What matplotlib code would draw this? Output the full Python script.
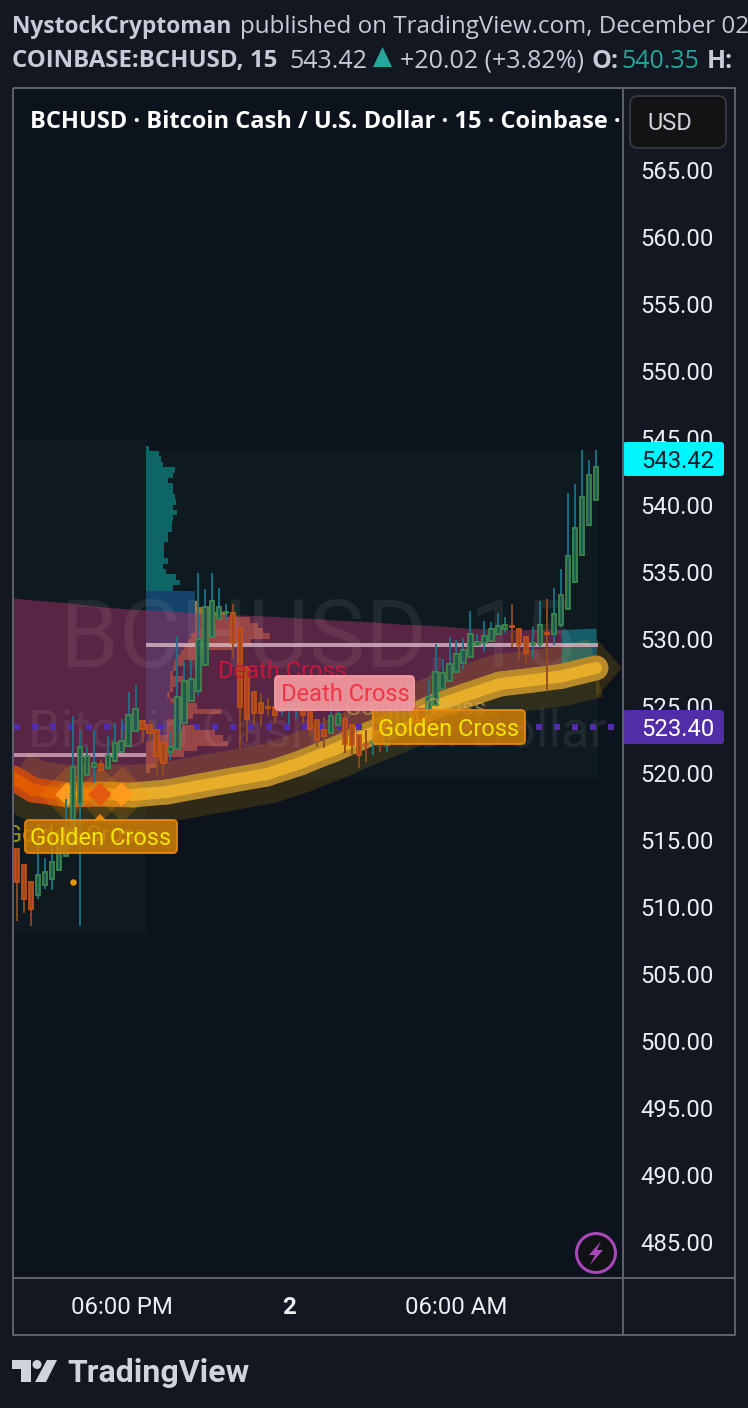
import numpy as np
import matplotlib
matplotlib.use("Agg")
import matplotlib.pyplot as plt
from matplotlib.collections import LineCollection
from matplotlib.patches import FancyBboxPatch, Polygon, Circle, Rectangle

# ---------- data ----------
opens = [514.31,513.11,511.84,510.87,511.62,512.07,512.76,513.81,515.30,517.68,519.82,520.47,520.64,520.37,520.92,521.59,522.01,523.15,523.90,523.55,
         523.23,522.26,521.54,521.76,523.70,525.34,526.14,528.03,530.16,531.46,531.95,531.90,530.79,527.88,526.01,525.19,524.94,524.89,524.60,524.87,
         524.79,524.89,524.57,523.92,523.20,523.00,523.60,523.99,523.60,522.85,522.15,522.20,522.30,522.10,522.70,523.20,523.92,524.99,524.74,524.39,
         525.04,526.23,526.83,527.50,528.17,528.62,529.51,529.71,529.86,530.36,530.71,530.93,530.75,530.16,529.51,529.61,530.41,530.36,531.05,532.20,
         534.24,536.22,538.46,540.32]
closes = [511.89,510.58,509.83,512.36,512.59,513.33,514.75,515.99,520.42,521.96,521.26,520.72,520.22,521.36,522.21,522.36,524.30,524.74,523.25,522.95,
          521.29,520.77,521.91,525.64,526.88,526.98,529.97,532.35,532.80,532.35,532.03,529.67,524.94,524.05,524.45,524.50,524.87,524.35,524.82,524.97,
          525.04,524.29,523.30,522.45,522.75,524.24,524.39,522.15,522.10,521.31,522.08,522.28,522.20,523.15,523.99,524.69,526.01,524.49,524.04,525.68,
          527.50,527.42,528.10,528.84,529.16,530.33,529.74,530.18,530.75,530.98,531.00,530.85,529.51,528.92,529.66,531.05,530.33,531.82,533.29,536.20,
          538.29,540.60,542.24,542.84]
highs = [514.31,513.11,511.84,515.00,513.63,515.12,515.62,518.03,524.25,523.20,521.91,523.20,521.04,522.76,523.70,524.00,526.04,526.53,523.90,523.95,
         523.23,522.26,523.03,530.21,528.27,528.42,534.91,533.69,534.89,533.77,532.60,532.60,530.79,527.88,526.01,525.94,525.59,524.89,526.24,525.69,
         525.64,524.89,524.57,523.92,524.19,525.19,524.74,524.44,523.60,522.85,523.20,522.83,523.07,524.99,524.74,525.68,527.30,525.81,524.74,526.98,
         529.61,528.47,530.11,529.91,530.03,532.05,530.36,531.33,531.28,531.95,531.65,532.59,530.75,530.16,530.90,532.79,532.97,533.76,535.18,540.85,
         541.52,544.08,543.33,544.08]
lows = [508.99,509.58,508.61,510.62,511.37,511.27,512.76,513.81,514.50,508.59,519.77,519.23,519.47,520.32,520.92,521.54,521.96,523.08,522.21,522.26,
        519.85,519.80,520.97,521.71,523.70,525.34,525.79,528.03,530.16,531.41,531.41,528.55,521.81,522.33,523.55,523.50,524.25,523.70,524.25,523.58,
        524.10,523.70,522.70,521.96,521.83,522.95,523.60,521.46,521.33,520.36,520.84,521.33,521.58,521.58,522.65,523.15,523.92,523.94,523.94,524.32,
        524.99,526.18,526.80,527.47,527.77,528.60,529.46,529.04,529.86,530.33,530.41,529.36,528.37,528.22,528.60,529.29,526.18,529.54,530.90,532.15,
        534.19,536.17,538.41,540.30]

ma_x = [-0.5,2.3,7.2,11.9,16.6,21.5,26.2,31,35.8,40.6,43.4,45.3,50.2,54.9,59.6,64.5,69.2,74,78,83]
ma_y = [519.62,518.73,518.36,518.43,518.36,518.58,519.03,519.48,519.92,520.74,521.34,521.71,522.84,523.80,524.92,525.81,526.63,526.93,527.20,527.83]
band_top = [533.05,532.9,532.7,532.4,532.2,532.1,531.9,531.8,531.7,531.55,531.5,531.4,531.3,531.1,531.0,530.8,530.7,530.7,530.7,530.8]

# volume profile: rows in USD, widths in bars
teal_rows = [544.2,543.8,543.4,543.0,542.6,542.2,541.8,541.4,541.0,540.6,540.2,539.8,539.4,539.0,538.6,538.2,537.8,537.4,537.0,536.6,536.2,535.8,535.4,535.0,534.6,534.2,533.8]
teal_w = [0.38,1.82,2.1,2.48,4.16,3.92,3.2,3.82,3.9,4.2,4.25,3.92,4.4,3.92,3.73,3.68,3.2,3.2,2.58,2.58,2.58,3.2,2.48,2.87,4.3,4.87,3.92]
va_rows = [533.4,533.0,532.6,532.2,531.8,531.4,531.0,530.6,530.2,529.8,529.4,529.0,528.6,528.2,527.8,527.4,527.0,526.6,526.2,525.8,525.4,525.0,524.6,524.2,523.8,523.4,523.0,522.6,522.2,521.8,521.4,521.0,520.6,520.2]
va_total = [7.0,7.0,7.26,9.5,11.6,14.9,16.1,16.8,17.8,15.1,12.5,8.7,7.3,5.4,4.4,3.9,5.4,4.6,3.9,3.4,5.4,7.3,10.8,6.8,4.4,7.7,9.9,11.1,11.8,7.3,5.4,3.2,1.5,0.6]
va_up = [7,7,7,7,7,7,7,7,6.5,6,5.5,5,4.5,4,3.8,3.5,3.5,3.5,3.5,3,3.5,4,4.5,4,3,3,3,2,0,0,0,0,0,0]

poc_left = 521.34
poc_right = 529.54
last_price = 543.42
ma_price = 523.40
price_ticks = [485,490,495,500,505,510,515,520,525,530,535,540,545,550,555,560,565]
time_ticks = [15,39,63]
time_labels = ["06:00 PM","2","06:00 AM"]

# ---------- figure ----------
W, H = 748, 1408
PX = 72/100
BG = "#131722"; PANE = "#0d131c"; LINE = "#5d606b"
plt.rcParams['font.family'] = ['Roboto','DejaVu Sans']
fig = plt.figure(figsize=(W/100,H/100),dpi=100,facecolor=BG)
ax = fig.add_axes([14/W,1-1278/H,608/W,1190/H],facecolor=PANE)
bar_px = 6.976
ax.set_xlim((14-17)/bar_px,(622-17)/bar_px)
ax.set_ylim(565-(1278-169.5)/13.41,565+(169.5-88)/13.41)
for s in ax.spines.values(): s.set_visible(False)
ax.yaxis.tick_right()
ax.set_yticks(price_ticks)
ax.set_yticklabels([f"{p:.2f}" for p in price_ticks],fontsize=17.2,color="#eceef2",ha='left')
ax.tick_params(axis='y',length=0,pad=18*PX)
ax.set_xticks(time_ticks)
ax.set_xticklabels(time_labels,fontsize=17.3,color="#eceef2")
ax.tick_params(axis='x',length=0,pad=18*PX)
ax.get_xticklabels()[1].set_fontweight('bold')

split = 18.5
# backgrounds of the profile ranges
ax.fill_between([-0.5,split],508.07,544.83,color="#0f1a20",lw=0,zorder=1)
ax.fill_between([split,83.3],519.62,544.09,color="#0f1a20",lw=0,zorder=1)

# profile
ax.barh(teal_rows,teal_w,left=split,height=0.4,color="#0d6566",lw=0,zorder=2,antialiased=False)
ax.barh(va_rows,va_up,left=split,height=0.4,color="#1a66a6",alpha=0.55,lw=0,zorder=2,antialiased=False)
ax.barh(va_rows,np.array(va_total)-np.array(va_up),left=split+np.array(va_up),height=0.4,color="#e88a2c",alpha=0.72,lw=0,zorder=2,antialiased=False)

# band
ax.fill_between(ma_x[:19],ma_y[:19],band_top[:19],color="#8c2d5d",alpha=0.6,lw=0,zorder=3)
ax.fill_between(ma_x[18:],ma_y[18:],band_top[18:],color="#1a7a8a",alpha=0.7,lw=0,zorder=3)

# watermark
ax.text((318-17)/bar_px,565-(640-169.5)/13.41,"BCHUSD, 15",fontsize=68,color="white",alpha=0.07,ha='center',va='center',zorder=3.5,clip_on=True)
ax.text((318-17)/bar_px,565-(733-169.5)/13.41,"Bitcoin Cash / U.S. Dollar",fontsize=37.5,color="white",alpha=0.07,ha='center',va='center',zorder=3.5,clip_on=True)

# moving average ribbons
ax.plot(ma_x,ma_y,color="#ffb300",alpha=0.14,lw=60*PX,solid_capstyle='butt',solid_joinstyle='round',zorder=4)
half = 30/13.41
ax.add_patch(Polygon([(ma_x[-1],ma_y[-1]+half),(ma_x[-1]+3.7,ma_y[-1]),(ma_x[-1],ma_y[-1]-half)],closed=True,fc="#ffb300",alpha=0.14,lw=0,zorder=4))
pts = np.column_stack([ma_x,ma_y])
segs = np.stack([pts[:-1],pts[1:]],axis=1)
n = len(segs)
outer_cols = ["#c24a10","#c24a10","#c8620f","#c07a1c"]+["#b98a2a"]*(n-4)
inner_cols = ["#e05a00","#e05a00","#e87408","#e69a1c"]+["#e8ae2a"]*(n-4)
ax.add_collection(LineCollection(segs,colors=outer_cols,linewidths=25*PX,capstyle='round',zorder=4.2))
ax.add_collection(LineCollection(segs,colors=inner_cols,linewidths=12*PX,capstyle='round',zorder=4.3))

# poc lines and dotted average
ax.plot([-0.5,split],[poc_left,poc_left],color="#d8a8b8",alpha=0.8,lw=4*PX,solid_capstyle='butt',zorder=5)
ax.plot([split,83.3],[poc_right,poc_right],color="#d8b8c4",alpha=0.8,lw=4*PX,solid_capstyle='butt',zorder=5)
ax.plot([-0.43,85.8],[ma_price,ma_price],color="#512da8",lw=6*PX,linestyle=(0,(1,2)),dash_capstyle='butt',zorder=5)

# cross markers
cross_x = [7.2,11.9,15.0]
cross_y = [518.4,518.4,518.4]
ax.scatter(cross_x,cross_y,marker='D',s=812,color="#ff9800",alpha=0.18,lw=0,zorder=5.1)
ax.scatter(cross_x,cross_y,marker='D',s=150,color=["#ff9a1e","#e35a10","#ff9a1e"],lw=0,zorder=5.2)

# candles
idx = np.arange(len(opens))
o,c,h,l = map(np.array,(opens,closes,highs,lows))
up = c>=o
ax.vlines(idx[up],l[up],h[up],color="#16758a",lw=2*PX,alpha=0.9,zorder=6)
ax.vlines(idx[~up],l[~up],h[~up],color="#8f4c20",lw=2*PX,alpha=0.9,zorder=6)
bot = np.minimum(o,c); hgt = np.abs(c-o)
ax.bar(idx[up],hgt[up],bottom=bot[up],width=0.62,color="#1f5a4a",edgecolor="#418a50",lw=2*PX,alpha=0.85,zorder=7)
ax.bar(idx[~up],hgt[~up],bottom=bot[~up],width=0.62,color="#a8481a",edgecolor="#c4521a",lw=2*PX,alpha=0.85,zorder=7)
ax.scatter([9],[515.1],marker='^',s=40,color="#3f8f3a",lw=0,zorder=7)
ax.scatter([8],[511.9],marker='o',s=22,color="#e89410",lw=0,zorder=7)

# ghost labels
ax.text((76-17)/bar_px,565-(836-169.5)/13.41,"Golden Cross",fontsize=17,color="#c8c020",alpha=0.75,ha='center',va='center',zorder=7.5,clip_on=True)
ax.text((415-17)/bar_px,565-(708-169.5)/13.41,"Golden Cross",fontsize=17,color="#d8b050",alpha=0.55,ha='center',va='center',zorder=7.5,clip_on=True)
ax.text((282-17)/bar_px,565-(671-169.5)/13.41,"Death Cross",fontsize=17,color="#c2183c",ha='center',va='center',zorder=7.5,clip_on=True)

# ---------- chrome ----------
ov = fig.add_axes([0,0,1,1],facecolor='none')
ov.set_xlim(0,W); ov.set_ylim(H,0); ov.axis('off')

def box(x0,y0,x1,y1,fc,ec,r=4,lw=2,alpha=1,z=2):
    ov.add_patch(FancyBboxPatch((x0+r,y0+r),x1-x0-2*r,y1-y0-2*r,boxstyle=f"round,pad={r},rounding_size={r}",
                                fc=fc,ec=ec,lw=lw*PX,alpha=alpha,zorder=z,mutation_aspect=1))

# labels over the candles
box(25,820,177,853,"#d08008","#e88c10",alpha=0.85)
ov.add_patch(Polygon([(94,820),(100,814),(106,820)],fc="#e88c10",lw=0,zorder=2))
ov.text(101,838.5,"Golden Cross",fontsize=17,color="#f2e400",ha='center',va='center',zorder=3)
box(373,710,525,744,"#d08008","#e88c10",alpha=0.85)
ov.text(449,729,"Golden Cross",fontsize=17,color="#f2e400",ha='center',va='center',zorder=3)
box(275,676,414,710,"#f49aa0","#f49aa0",alpha=0.92)
ov.text(345,694.5,"Death Cross",fontsize=17,color="#f23645",ha='center',va='center',zorder=3)

# borders
for (xs,ys) in [([13,735,735,13,13],[88,88,1335,1335,88]),([623,623],[88,1335]),([13,735],[1278,1278])]:
    ov.plot(xs,ys,color=LINE,lw=2*PX,solid_capstyle='butt',zorder=5)

# price tags
box(623,442,724,476,"#00f5ff","#00f5ff",r=3,lw=0,z=4)
ov.text(641,461,f"{last_price:.2f}",fontsize=17.2,color="#10202a",va='center',ha='left',zorder=6)
box(623,710,724,744,"#512da8","#512da8",r=3,lw=0,z=4)
ov.text(641,729,f"{ma_price:.2f}",fontsize=17.2,color="#ffffff",va='center',ha='left',zorder=6)

# pane title
ov.text(30,122,"BCHUSD · Bitcoin Cash / U.S. Dollar · 15 · Coinbase ·",fontsize=17,family=['Open Sans','DejaVu Sans'],fontweight='bold',color="#ffffff",va='center',ha='left',zorder=3)
box(630,96,726,148,"#131313","#33363c",r=8,z=6)
ov.text(670,123,"USD",fontsize=17,color="#d1d4dc",ha='center',va='center',zorder=7)

# header
HC = "#c8cad8"
OS = ['Open Sans','DejaVu Sans']
ov.text(12,27,"NystockCryptoman",fontsize=16.4,family=OS,fontweight='bold',color=HC,va='center')
ov.text(240,27,"published on TradingView.com, December 02",fontsize=17.4,family=OS,color=HC,va='center')
ov.text(12,61,"COINBASE:BCHUSD, 15",fontsize=17.3,family=OS,fontweight='bold',color=HC,va='center')
ov.text(289,61,"543.42",fontsize=18,family=OS,color=HC,va='center')
ov.add_patch(Polygon([(373,67),(382.5,47),(392,67)],fc="#26a69a",lw=0))
ov.text(400,61,"+20.02 (+3.82%)",fontsize=18,family=OS,color=HC,va='center')
ov.text(592,61,"O:",fontsize=18,family=OS,fontweight='bold',color=HC,va='center')
ov.text(621,61,"540.35",fontsize=18,family=OS,color="#26a69a",va='center')
ov.text(707,61,"H:",fontsize=18,family=OS,fontweight='bold',color=HC,va='center')

# lightning icon
ov.add_patch(Circle((596,1253),19.5,fc="#111214",ec="#ab47bc",lw=3*PX,zorder=3))
ov.add_patch(Polygon([(601,1241),(589,1255),(595,1255),(590,1265),(603,1250),(597,1250)],fc="#ab47bc",lw=0,zorder=4))

# logo
LC = "#d1d4dc"
ov.add_patch(Polygon([(12,1360),(31,1360),(31,1382),(21,1382),(21,1369),(12,1369)],fc=LC,lw=0))
ov.add_patch(Circle((37,1364.5),4.5,fc=LC,lw=0))
ov.add_patch(Polygon([(47,1360),(57,1360),(46,1382),(35,1382)],fc=LC,lw=0))
ov.text(67,1373,"TradingView",fontsize=23,fontweight='bold',color=LC,va='center',ha='left')

fig.savefig("out.png",dpi=100,facecolor=BG)
